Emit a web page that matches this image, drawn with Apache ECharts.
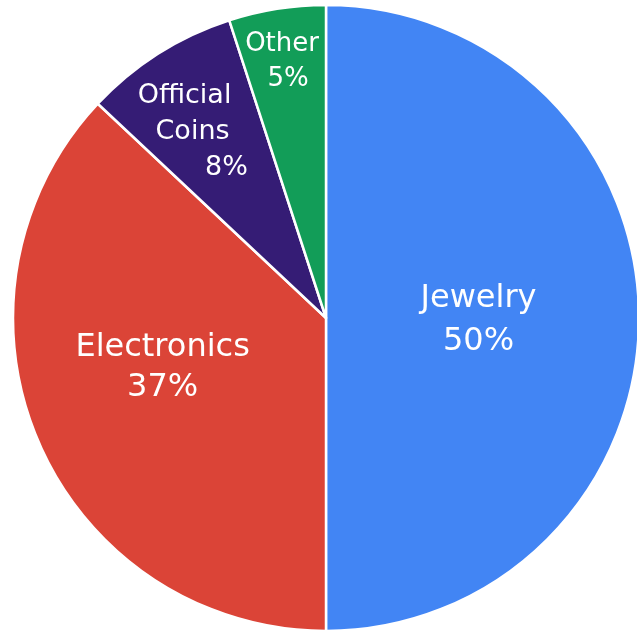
<!DOCTYPE html>
<html>
<head>
<meta charset="utf-8">
<script src="https://cdn.jsdelivr.net/npm/echarts@6/dist/echarts.min.js"></script>
<style>
html,body{margin:0;padding:0;background:#fff;}
#chart{width:637px;height:631px;}
</style>
</head>
<body>
<div id="chart"></div>
<script>
// Data
const categories = ['Jewelry', 'Electronics', 'Official\nCoins', 'Other'];
const values = [50, 37, 8, 5];

// Styles (kept apart from data)
const colors = ['#4285F4', '#DB4437', '#351C75', '#129D58'];
const labelSizes = [32, 32, 27, 26];
const labelLineHeights = [43, 40, 36, 35];
const labelShift = [[-7, 2], [-17, -14], [-42, -51], [-16, -99]];
const lineShift = [[0, 0], [0, 0], [-14, -6, 28], [-3, 3]];

const FONT = 'DejaVu Sans';

function richFor(i) {
  const rich = {};
  lineShift[i].forEach(function (s, j) {
    rich['l' + j] = {
      color: '#fff',
      fontSize: labelSizes[i],
      lineHeight: labelLineHeights[i],
      fontFamily: FONT,
      padding: s >= 0 ? [0, 0, 0, 2 * s] : [0, -2 * s, 0, 0]
    };
  });
  return rich;
}

const data = categories.map(function (name, i) {
  return {
    name: name,
    value: values[i],
    itemStyle: { color: colors[i] },
    label: { rich: richFor(i) }
  };
});

const chart = echarts.init(document.getElementById('chart'), null, { renderer: 'canvas' });
chart.setOption({
  animation: false,
  backgroundColor: '#fff',
  series: [{
    type: 'pie',
    center: [326, 318],
    radius: [0, 313],
    startAngle: 90,
    clockwise: true,
    avoidLabelOverlap: false,
    itemStyle: { borderColor: '#fff', borderWidth: 2.5 },
    label: {
      show: true,
      position: 'inside',
      color: '#fff',
      fontFamily: FONT,
      formatter: function (p) {
        const lines = p.name.split('\n');
        lines.push(Math.round(p.percent) + '%');
        return lines.map(function (t, j) { return '{l' + j + '|' + t + '}'; }).join('\n');
      }
    },
    labelLine: { show: false },
    labelLayout: function (p) {
      const s = labelShift[p.dataIndex];
      return { dx: s[0], dy: s[1] };
    },
    data: data
  }]
});
</script>
</body>
</html>
